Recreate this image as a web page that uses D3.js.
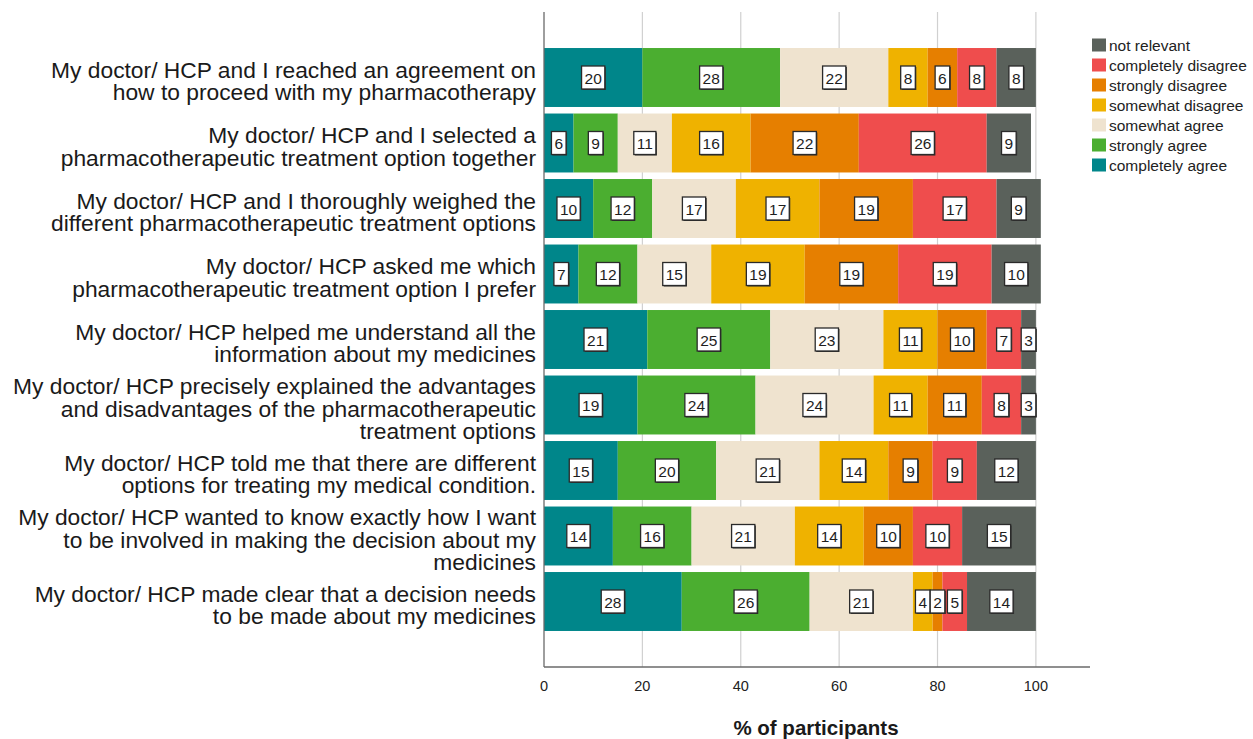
<!DOCTYPE html>
<html>
<head>
<meta charset="utf-8">
<script src="https://cdn.jsdelivr.net/npm/d3@7"></script>
<style>
  html, body { margin: 0; padding: 0; background: #fff; }
  svg { display: block; font-family: "Liberation Sans", Arial, sans-serif; }
</style>
</head>
<body>
<svg id="chart" width="1253" height="739"></svg>
<script>
// Survey statements (each entry is the wrapped lines of one label)
const statements = [
  ["My doctor/ HCP and I reached an agreement on", "how to proceed with my pharmacotherapy"],
  ["My doctor/ HCP and I selected a", "pharmacotherapeutic treatment option together"],
  ["My doctor/ HCP and I thoroughly weighed the", "different pharmacotherapeutic treatment options"],
  ["My doctor/ HCP asked me which", "pharmacotherapeutic treatment option I prefer"],
  ["My doctor/ HCP helped me understand all the", "information about my medicines"],
  ["My doctor/ HCP precisely explained the advantages", "and disadvantages of the pharmacotherapeutic", "treatment options"],
  ["My doctor/ HCP told me that there are different", "options for treating my medical condition."],
  ["My doctor/ HCP wanted to know exactly how I want", "to be involved in making the decision about my", "medicines"],
  ["My doctor/ HCP made clear that a decision needs", "to be made about my medicines"]
];

// Response categories, stacked left to right
const responses = [
  "completely agree", "strongly agree", "somewhat agree", "somewhat disagree",
  "strongly disagree", "completely disagree", "not relevant"
];
const responseColors = ["#00868a", "#4bae30", "#efe3cf", "#efb200", "#e67f00", "#ef4d4d", "#5a615b"];

// % of participants per response, one array per response category (rows follow statements)
const completelyAgree    = [20,  6, 10,  7, 21, 19, 15, 14, 28];
const stronglyAgree      = [28,  9, 12, 12, 25, 24, 20, 16, 26];
const somewhatAgree      = [22, 11, 17, 15, 23, 24, 21, 21, 21];
const somewhatDisagree   = [ 8, 16, 17, 19, 11, 11, 14, 14,  4];
const stronglyDisagree   = [ 6, 22, 19, 19, 10, 11,  9, 10,  2];
const completelyDisagree = [ 8, 26, 17, 19,  7,  8,  9, 10,  5];
const notRelevant        = [ 8,  9,  9, 10,  3,  3, 12, 15, 14];

const xTicks = [0, 20, 40, 60, 80, 100];
const axisTitle = "% of participants";

const seriesValues = [completelyAgree, stronglyAgree, somewhatAgree, somewhatDisagree,
                      stronglyDisagree, completelyDisagree, notRelevant];

// Build rows for d3.stack
const rows = statements.map((s, i) => {
  const r = { id: i };
  responses.forEach((k, j) => { r[k] = seriesValues[j][i]; });
  return r;
});
const stacked = d3.stack().keys(responses)(rows);

const svg = d3.select("#chart");
const plotLeft = 544, plotRight = 1090, plotTop = 12, plotBottom = 667;

const x = d3.scaleLinear().domain([0, 111]).range([plotLeft, plotRight]);
const y = d3.scaleBand().domain(d3.range(statements.length))
  .range([plotTop, plotBottom]).paddingInner(0.1).paddingOuter(0.55);
const color = d3.scaleOrdinal().domain(responses).range(responseColors);

// Vertical gridlines
svg.append("g").selectAll("line").data(xTicks.filter(t => t > 0)).join("line")
  .attr("x1", d => x(d)).attr("x2", d => x(d))
  .attr("y1", plotTop).attr("y2", plotBottom)
  .attr("stroke", "#d0d0d0").attr("stroke-width", 1.2);

// Stacked bars
const layers = svg.append("g").selectAll("g").data(stacked).join("g")
  .attr("fill", d => color(d.key));
layers.selectAll("rect").data(d => d).join("rect")
  .attr("x", d => x(d[0]))
  .attr("y", (d, i) => y(i))
  .attr("width", d => x(d[1]) - x(d[0]))
  .attr("height", y.bandwidth());

// Value labels in boxes
const labelG = svg.append("g").attr("font-size", 15.5).attr("fill", "#1e1e1e");
stacked.forEach(layer => {
  layer.forEach((d, i) => {
    const v = d[1] - d[0];
    const cx = (x(d[0]) + x(d[1])) / 2;
    const cy = y(i) + y.bandwidth() / 2;
    const g = labelG.append("g");
    const t = g.append("text").text(v)
      .attr("x", cx).attr("y", cy + 0.5).attr("text-anchor", "middle")
      .attr("dominant-baseline", "central");
    const w = t.node().getComputedTextLength() + 6;
    const h = 23;
    g.insert("rect", "text")
      .attr("x", cx - w / 2 + 1).attr("y", cy - h / 2 + 1)
      .attr("width", w).attr("height", h).attr("fill", "#333");
    g.insert("rect", "text")
      .attr("x", cx - w / 2).attr("y", cy - h / 2)
      .attr("width", w).attr("height", h)
      .attr("fill", "#fff").attr("stroke", "#2a2a2a").attr("stroke-width", 1.3);
  });
});

// Axes lines
svg.append("line").attr("x1", plotLeft).attr("x2", plotLeft).attr("y1", plotTop).attr("y2", plotBottom)
  .attr("stroke", "#6a6a6a").attr("stroke-width", 1.3);
svg.append("line").attr("x1", plotLeft).attr("x2", plotRight).attr("y1", plotBottom).attr("y2", plotBottom)
  .attr("stroke", "#6a6a6a").attr("stroke-width", 1.3);

// X tick labels
svg.append("g").selectAll("text").data(xTicks).join("text")
  .attr("x", d => x(d)).attr("y", 691)
  .attr("text-anchor", "middle").attr("font-size", 14.5).attr("fill", "#222")
  .text(d => d);

// Axis title
svg.append("text").attr("x", 816).attr("y", 735)
  .attr("text-anchor", "middle").attr("font-size", 20.5).attr("font-weight", "bold")
  .attr("fill", "#1a1a1a").text(axisTitle);

// Statement labels
const lineH = 22.5;
svg.append("g").selectAll("text").data(statements).join("text")
  .attr("text-anchor", "end").attr("font-size", 22.8).attr("fill", "#1a1a1a")
  .each(function (lines, i) {
    const cy = y(i) + y.bandwidth() / 2 + 3.5;
    const y0 = cy - (lines.length - 1) * lineH / 2;
    d3.select(this).selectAll("tspan").data(lines).join("tspan")
      .attr("x", 536).attr("y", (l, k) => y0 + k * lineH)
      .attr("dominant-baseline", "central")
      .text(l => l);
  });

// Legend (reverse order, top to bottom)
const legend = svg.append("g");
const legendItems = responses.slice().reverse();
legendItems.forEach((k, i) => {
  const ly = 45 + i * 20;
  legend.append("rect").attr("x", 1092).attr("y", ly - 6.5).attr("width", 14).attr("height", 13)
    .attr("fill", color(k));
  legend.append("text").attr("x", 1109).attr("y", ly + 0.5).attr("dominant-baseline", "central")
    .attr("font-size", 15.5).attr("fill", "#222").text(k);
});
</script>
</body>
</html>
